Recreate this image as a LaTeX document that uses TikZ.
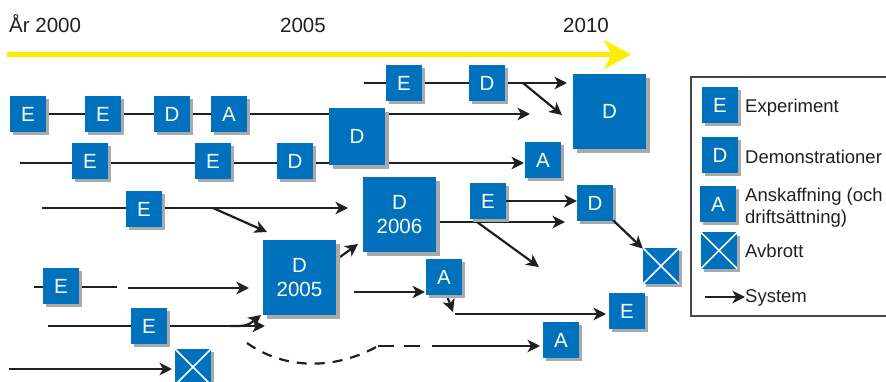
\documentclass[tikz,border=0pt]{standalone}
\usepackage{fontspec}
\setmainfont{Liberation Sans}
\usetikzlibrary{arrows.meta,shadows}
\definecolor{boxblue}{RGB}{0,113,188}
\definecolor{shade}{RGB}{167,169,172}
\definecolor{ink}{RGB}{35,31,32}
\definecolor{timeline}{RGB}{255,237,0}
\definecolor{framegray}{RGB}{70,70,70}
\begin{document}
\begin{tikzpicture}[x=1pt,y=-1pt,
  boxbase/.style={fill=boxblue, text=white, inner sep=0pt, align=center},
  blk/.style={boxbase, minimum width=36pt, minimum height=36pt,
    font=\fontsize{20.5}{24}\selectfont,
    drop shadow={shadow xshift=3pt, shadow yshift=-3pt, fill=shade, opacity=1}},
  midblk/.style={boxbase, minimum width=56pt, minimum height=57pt,
    font=\fontsize{20.5}{24}\selectfont,
    drop shadow={shadow xshift=4pt, shadow yshift=-4pt, fill=shade, opacity=1}},
  bigblk/.style={boxbase, minimum width=73pt, minimum height=75pt,
    font=\fontsize{20.5}{24.5}\selectfont,
    drop shadow={shadow xshift=4pt, shadow yshift=-4pt, fill=shade, opacity=1}},
  xblk/.style={blk, path picture={
    \draw[white, line width=1.6pt]
      (path picture bounding box.north west) -- (path picture bounding box.south east)
      (path picture bounding box.north east) -- (path picture bounding box.south west);}},
  ln/.style={draw=ink, line width=2.2pt},
  arr/.style={ln, -{Stealth[length=12.5pt, width=12.5pt, inset=3.5pt]}},
  dashln/.style={ln, dash pattern=on 10pt off 8pt},
  headtext/.style={text=ink, inner sep=0pt, font=\fontsize{20.5}{24}\selectfont},
  legtext/.style={text=ink, inner sep=0pt, font=\fontsize{18.5}{22}\selectfont},
  frame/.style={draw=framegray, line width=1.2pt}
]
\useasboundingbox (0,0) rectangle (886,382);

% ---- time axis ----
\node[headtext, anchor=base west] (y2000) at (9,33) {År 2000};
\node[headtext, anchor=base] (y2005) at (303,33) {2005};
\node[headtext, anchor=base] (y2010) at (586,33) {2010};
\coordinate (tl0) at (7,54.5);
\coordinate (tl1) at (631,54.5);
\draw[timeline, line width=5pt, -{Stealth[length=27pt, width=29pt, inset=8pt]}] (tl0) -- (tl1);

% ---- free ends of the system lines ----
\coordinate (t0) at (364,83);   \coordinate (t1) at (567,83);
\coordinate (tb0) at (523,83);  \coordinate (tb1) at (562,115);
\coordinate (a0) at (28,114);   \coordinate (a1) at (530,114);
\coordinate (b0) at (20,163);   \coordinate (b1) at (524,163);
\coordinate (c0) at (42,208);   \coordinate (c1) at (348,208);
\coordinate (cb0) at (213,208); \coordinate (cb1) at (267,232);
\coordinate (d0) at (34,287);   \coordinate (d1) at (117,287);
\coordinate (d2) at (128,288);  \coordinate (d3) at (249,288);
\coordinate (e0) at (48,326);   \coordinate (e1) at (265,326);
\coordinate (eb0) at (230,326); \coordinate (eb1) at (261,315);
\coordinate (f0) at (9,369);    \coordinate (f1) at (172,369);
\coordinate (g0) at (340,257);  \coordinate (g1) at (358,244);
\coordinate (h0) at (436,222);  \coordinate (h1) at (565,222);
\coordinate (hb0) at (477,222); \coordinate (hb1) at (539,267);
\coordinate (k0) at (354,292);  \coordinate (k1) at (425,292);
\coordinate (m0) at (447,296);  \coordinate (m1) at (453,312);
\coordinate (n0) at (455,314);  \coordinate (n1) at (606,314);
\coordinate (p0) at (247,343);  \coordinate (p1) at (378,346);
\coordinate (p2) at (420,346);
\coordinate (q0) at (432,346);  \coordinate (q1) at (540,346);

% ---- system lines (boxes are drawn over them) ----
\draw[arr] (t0) -- (t1);
\draw[arr] (tb0) -- (tb1);
\draw[arr] (a0) -- (a1);
\draw[arr] (b0) -- (b1);
\draw[arr] (c0) -- (c1);
\draw[arr] (cb0) -- (cb1);
\draw[ln] (d0) -- (d1);
\draw[arr] (d2) -- (d3);
\draw[arr] (e0) -- (e1);
\draw[arr] (eb0) .. controls (247,326) .. (eb1);
\draw[arr] (f0) -- (f1);
\draw[arr] (g0) -- (g1);
\draw[arr] (h0) -- (h1);
\draw[arr] (hb0) -- (hb1);
\draw[arr] (k0) -- (k1);
\draw[arr] (m0) -- (m1);
\draw[arr] (n0) -- (n1);
\draw[dashln] (p0) .. controls (285,370) and (335,370) .. (p1);
\draw[ln, dash pattern=on 16pt off 10pt] (p1) -- (p2);
\draw[arr] (q0) -- (q1);

% ---- boxes ----
\node[blk] (tE) at (404,83) {E};
\node[blk] (tD) at (487,83) {D};
\node[bigblk] (Dbig) at (609.5,111.5) {D};

\node[blk] (aE1) at (28,114) {E};
\node[blk] (aE2) at (103,114) {E};
\node[blk] (aD) at (172,114) {D};
\node[blk] (aA) at (229,114) {A};
\node[midblk] (Dmid) at (357,136.5) {D};

\node[blk] (bE1) at (90,161) {E};
\node[blk] (bE2) at (213,161) {E};
\node[blk] (bD) at (295,161) {D};
\node[blk] (bA) at (543,160) {A};

\node[blk] (cE) at (144,209) {E};
\node[bigblk] (D5) at (299.5,277.5) {D\\2005};
\node[bigblk] (D6) at (399.5,214.5) {D\\2006};
\node[blk] (cE2) at (488,201) {E};
\node[blk] (cD) at (595,203) {D};
\node[xblk] (cX) at (661,266) {};

\node[blk] (dE) at (61,286) {E};
\node[blk] (dA) at (444,277) {A};
\node[blk] (dE2) at (627,311) {E};

\node[blk] (eE) at (149,326) {E};
\node[xblk] (fX) at (193,367) {};
\node[blk] (fA) at (561,340) {A};

\draw[arr] (cE2.east) -- (cE2.east -| cD.west);
\draw[arr] (cD) -- (cX);

% ---- legend ----
\draw[frame] (887,77) -- (691,77) -- (691,316) -- (887,316);
\node[blk] (lE) at (720,105.5) {E};
\node[blk] (lD) at (720,155.5) {D};
\node[blk] (lA) at (718,204.5) {A};
\node[xblk] (lX) at (719,250.5) {};
\node[legtext, anchor=base west] (lEt) at (745,113) {Experiment};
\node[legtext, anchor=base west] (lDt) at (745,164) {Demonstrationer};
\node[legtext, anchor=base west] (lAt1) at (745,202) {Anskaffning (och};
\node[legtext, anchor=base west] (lAt2) at (745,223) {driftsättning)};
\node[legtext, anchor=base west] (lXt) at (745,258) {Avbrott};
\node[legtext, anchor=base west] (lSt) at (745,302) {System};
\coordinate (ls0) at (705,297);
\draw[arr] (ls0) -- (ls0 -| lSt.west);
\end{tikzpicture}
\end{document}
